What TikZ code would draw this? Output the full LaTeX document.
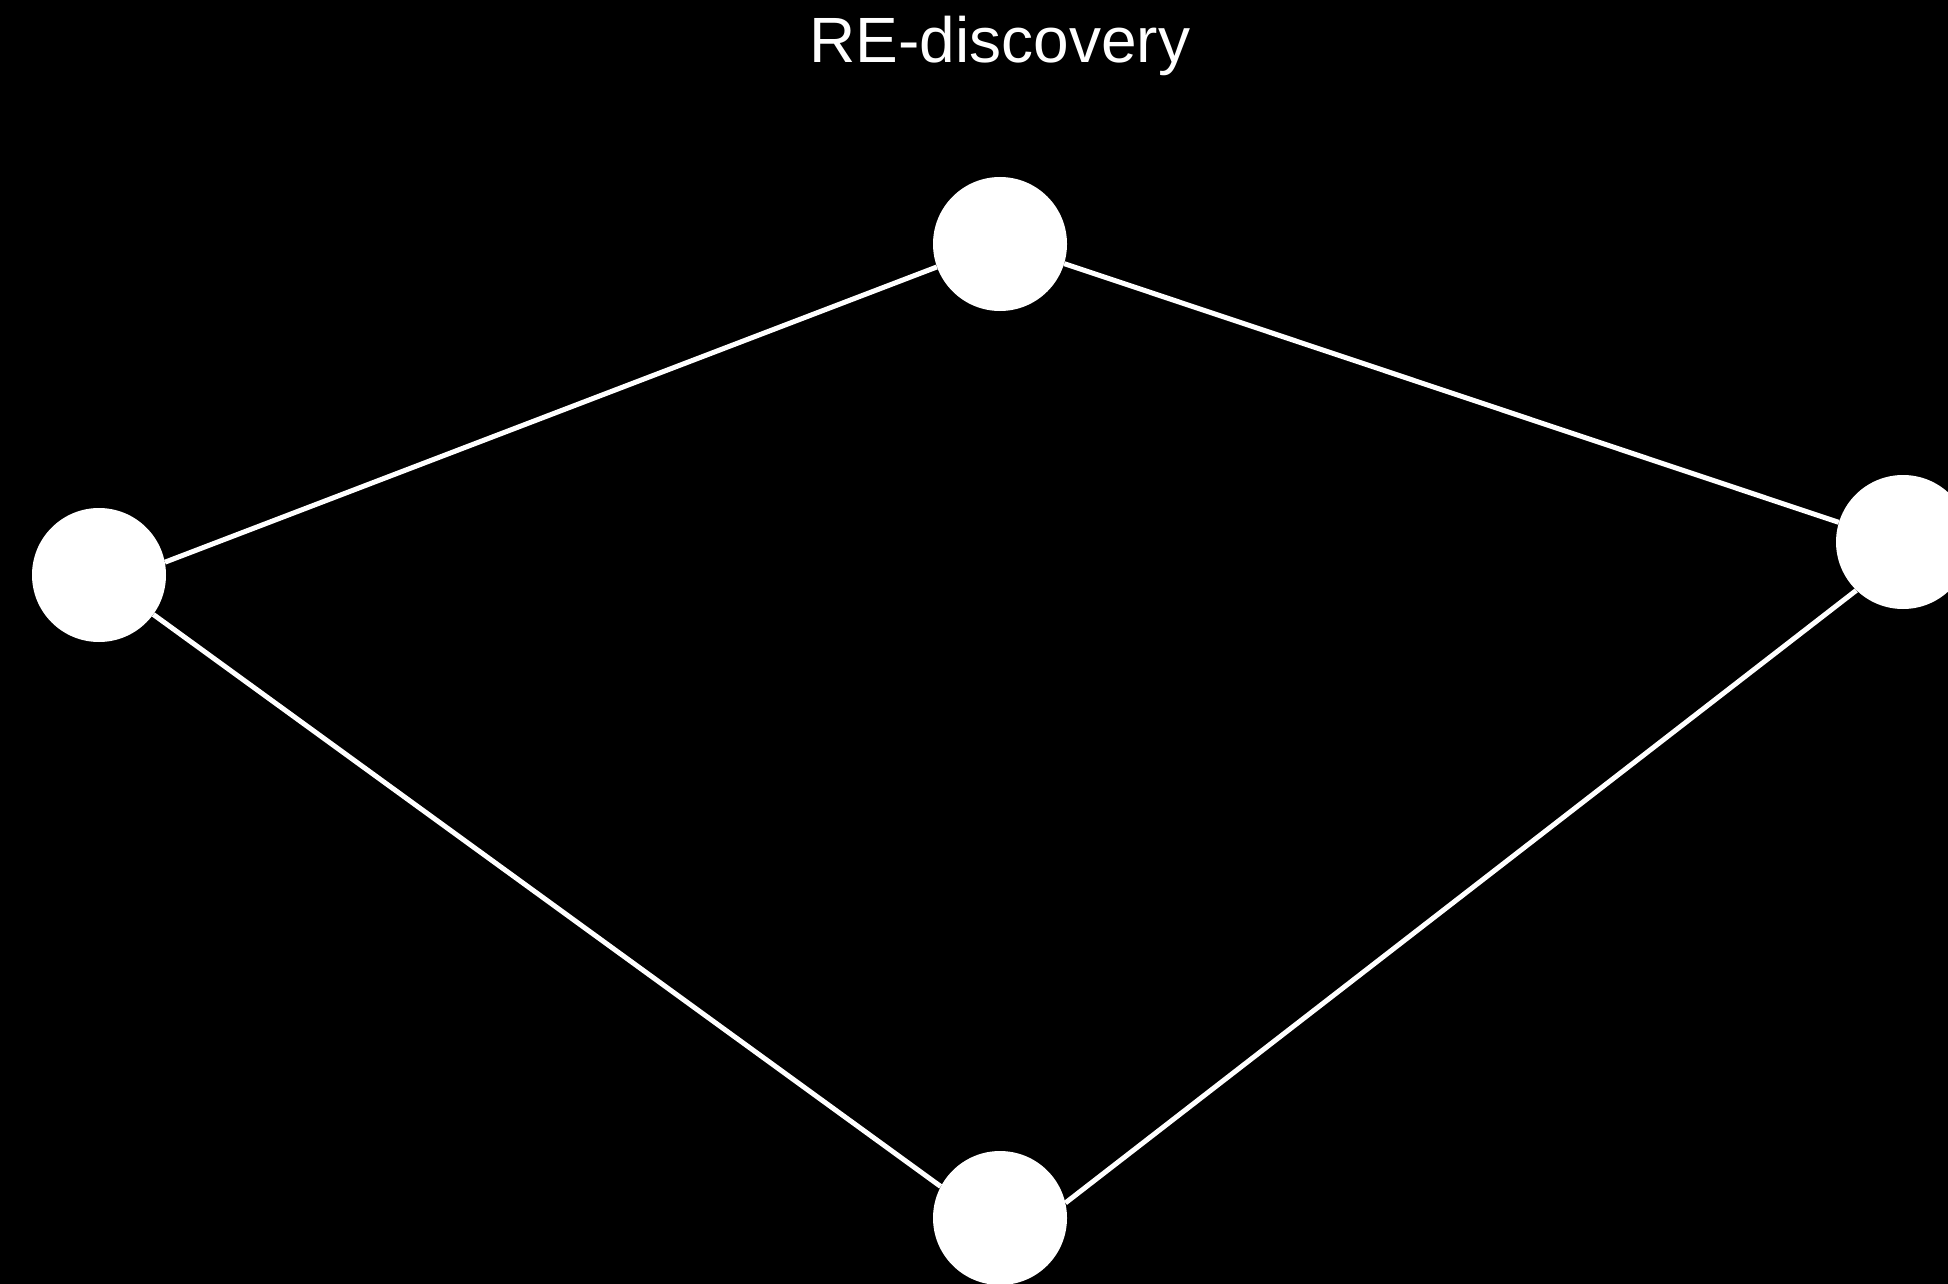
\documentclass[tikz,border=0pt]{standalone}
\usepackage{fontspec}
\setmainfont{Liberation Sans}
\usepackage{xcolor}
\usepackage{tikz}

\begin{document}
\begin{tikzpicture}[
  x=1pt, y=-1pt,
  vertex/.style={circle, fill=white, inner sep=0pt, minimum size=134pt},
  link/.style={draw=white, line width=5pt},
  title/.style={text=white, anchor=base, inner sep=0pt,
                font=\fontsize{64}{70}\selectfont}
]
  \fill[black] (0,0) rectangle (1948,1284);
  \useasboundingbox (0,0) rectangle (1948,1284);

  \node[title] (head) at (1000,63) {RE-discovery};

  \node[vertex] (top)    at (1000,244) {};
  \node[vertex] (left)   at (99,575) {};
  \node[vertex] (right)  at (1903,542) {};
  \node[vertex] (bottom) at (1000,1218) {};

  \draw[link] (left.11.5) -- (top.200);
  \draw[link] (top.343) -- (right.163);
  \draw[link] (left.-36.5) -- (bottom.152.7);
  \draw[link] (bottom.13) -- (right.226);
\end{tikzpicture}
\end{document}
